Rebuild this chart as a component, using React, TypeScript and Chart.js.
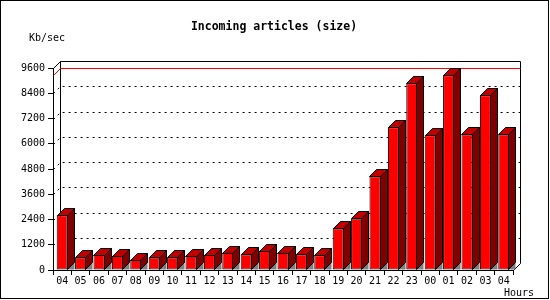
import React, { useEffect, useRef } from "react";
import { Chart, registerables } from "chart.js";

Chart.register(...registerables);

const hours = ["04","05","06","07","08","09","10","11","12","13","14","15","16","17","18","19","20","21","22","23","00","01","02","03","04"];
const sizeKb = [2600,600,710,660,480,600,600,660,710,810,750,900,810,750,700,1980,2450,4460,6780,8870,6400,9260,6450,8300,6450];
const yMax = 9600;
const yStep = 1200;

const MONO = "'DejaVu Sans Mono', monospace";
const DX = 7;
const DY = 7;

const threeD = {
  id: "threeD",
  beforeDatasetsDraw(chart: any) {
    const { ctx, chartArea: a, scales } = chart;
    const y = scales.y;
    ctx.save();
    ctx.fillStyle = "#ffffff";
    ctx.fillRect(a.left + DX, a.top - DY, a.right - a.left, a.bottom - a.top);
    ctx.strokeStyle = "#000";
    ctx.lineWidth = 1;
    ctx.setLineDash([2, 4]);
    for (let v = yStep; v < yMax; v += yStep) {
      const py = Math.round(y.getPixelForValue(v)) + 0.5;
      ctx.beginPath();
      ctx.moveTo(a.left + 0.5, py);
      ctx.lineTo(a.left + DX + 0.5, py - DY);
      ctx.lineTo(a.right + DX + 0.5, py - DY);
      ctx.stroke();
    }
    ctx.setLineDash([]);
    const L = a.left + 0.5, T = Math.round(a.top) + 0.5, B = Math.round(a.bottom) + 0.5, R = Math.round(a.right) + 0.5;
    ctx.beginPath();
    ctx.moveTo(L, T);
    ctx.lineTo(L + DX, T - DY);
    ctx.lineTo(R + DX, T - DY);
    ctx.lineTo(R + DX, B - DY);
    ctx.lineTo(R, B);
    ctx.moveTo(L + DX, T - DY);
    ctx.lineTo(L + DX, B - DY);
    ctx.stroke();
    const mx = Math.max(...sizeKb);
    const my = Math.round(y.getPixelForValue(mx)) + 0.5;
    ctx.strokeStyle = "#ff0000";
    ctx.beginPath();
    ctx.moveTo(L, my);
    ctx.lineTo(L + DX, my - DY);
    ctx.lineTo(R + DX, my - DY);
    ctx.stroke();
    ctx.restore();
  },
  afterDatasetsDraw(chart: any) {
    const { ctx } = chart;
    const meta = chart.getDatasetMeta(0);
    ctx.save();
    ctx.lineWidth = 1;
    ctx.strokeStyle = "#000";
    meta.data.forEach((bar: any) => {
      const p = bar.getProps(["x", "y", "base", "width"], true);
      const left = Math.round(p.x - p.width / 2) + 0.5;
      const right = Math.round(p.x + p.width / 2) - 0.5;
      const top = Math.round(p.y) + 0.5;
      const base = Math.round(p.base) - 0.5;
      ctx.fillStyle = "#808080";
      ctx.beginPath();
      ctx.moveTo(right, base);
      ctx.lineTo(right + DX, base - DY);
      ctx.lineTo(right + DX, base);
      ctx.closePath();
      ctx.fill();
      ctx.fillStyle = "#c00000";
      ctx.beginPath();
      ctx.moveTo(left, top);
      ctx.lineTo(left + DX, top - DY);
      ctx.lineTo(right + DX, top - DY);
      ctx.lineTo(right, top);
      ctx.closePath();
      ctx.fill();
      ctx.stroke();
      ctx.fillStyle = "#800000";
      ctx.beginPath();
      ctx.moveTo(right, top);
      ctx.lineTo(right + DX, top - DY);
      ctx.lineTo(right + DX, base - DY);
      ctx.lineTo(right, base);
      ctx.closePath();
      ctx.fill();
      ctx.stroke();
    });
    ctx.restore();
  },
  afterDraw(chart: any) {
    const { ctx } = chart;
    ctx.save();
    ctx.fillStyle = "#000";
    ctx.textBaseline = "middle";
    ctx.textAlign = "center";
    ctx.font = `bold 11.5px ${MONO}`;
    ctx.fillText("Incoming articles (size)", 274, 27);
    ctx.font = `10px ${MONO}`;
    ctx.textAlign = "left";
    ctx.fillText("Kb/sec", 29, 38);
    ctx.fillText("Hours", 504, 293);
    ctx.strokeStyle = "#000";
    ctx.lineWidth = 1;
    ctx.strokeRect(0.5, 0.5, 548, 298);
    ctx.restore();
  },
};

export default function App() {
  const ref = useRef<HTMLCanvasElement>(null);
  useEffect(() => {
    document.body.style.margin = "0";
    const chart = new Chart(ref.current as HTMLCanvasElement, {
      type: "bar",
      data: {
        labels: hours,
        datasets: [
          {
            data: sizeKb,
            backgroundColor: "#ff0000",
            borderColor: "#000000",
            borderWidth: 1,
            borderSkipped: false,
            categoryPercentage: 1,
            barPercentage: 0.6,
          },
        ],
      },
      options: {
        responsive: false,
        animation: false,
        layout: { padding: { top: 68, right: 37, left: 0, bottom: 0 } },
        plugins: { legend: { display: false }, tooltip: { enabled: false }, title: { display: false } },
        scales: {
          x: {
            type: "category",
            offset: true,
            grid: { display: true, drawOnChartArea: false, drawTicks: true, tickLength: 5, color: "#000", offset: true },
            border: { display: true, color: "#000" },
            ticks: { font: { family: MONO, size: 10 }, color: "#000", padding: 0, maxRotation: 0, autoSkip: false },
            afterFit: (s: any) => { s.height = 30; },
          },
          y: {
            min: 0,
            max: yMax,
            ticks: { stepSize: yStep, font: { family: MONO, size: 10 }, color: "#000", padding: 3, callback: (v: any) => String(v) },
            grid: { display: true, drawOnChartArea: false, drawTicks: true, tickLength: 5, color: "#000" },
            border: { display: true, color: "#000" },
            afterFit: (s: any) => { s.width = 53; },
          },
        },
      },
      plugins: [threeD],
    });
    return () => chart.destroy();
  }, []);
  return <canvas ref={ref} width={550} height={300} />;
}
